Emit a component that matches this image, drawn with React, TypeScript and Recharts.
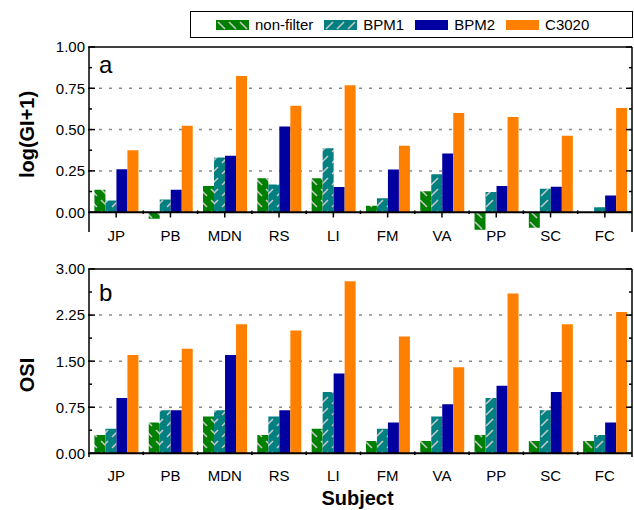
import { BarChart, Bar, XAxis, YAxis, CartesianGrid, ReferenceLine, Legend } from "recharts"

const subjects = ["JP", "PB", "MDN", "RS", "LI", "FM", "VA", "PP", "SC", "FC"]

// panel a: log(GI+1)
const giNonFilter = [0.136, -0.04, 0.158, 0.205, 0.205, 0.039, 0.126, -0.107, -0.095, -0.005]
const giBpm1 = [0.071, 0.077, 0.331, 0.167, 0.387, 0.085, 0.229, 0.122, 0.142, 0.03]
const giBpm2 = [0.26, 0.136, 0.341, 0.519, 0.152, 0.258, 0.355, 0.158, 0.154, 0.101]
const giC3020 = [0.375, 0.523, 0.825, 0.645, 0.769, 0.402, 0.6, 0.576, 0.462, 0.631]

// panel b: OSI
const osiNonFilter = [0.3, 0.5, 0.6, 0.3, 0.4, 0.2, 0.2, 0.3, 0.2, 0.2]
const osiBpm1 = [0.4, 0.7, 0.7, 0.6, 1.0, 0.4, 0.6, 0.9, 0.7, 0.3]
const osiBpm2 = [0.9, 0.7, 1.6, 0.7, 1.3, 0.5, 0.8, 1.1, 1.0, 0.5]
const osiC3020 = [1.6, 1.7, 2.1, 2.0, 2.8, 1.9, 1.4, 2.6, 2.1, 2.3]

const giTicks = [0, 0.25, 0.5, 0.75, 1]
const osiTicks = [0, 0.75, 1.5, 2.25, 3]

const series = [
  { key: "nf", name: "non-filter", color: "#008000", hatch: "back" },
  { key: "b1", name: "BPM1", color: "#008080", hatch: "fwd" },
  { key: "b2", name: "BPM2", color: "#0000a0", hatch: "" },
  { key: "c3", name: "C3020", color: "#ff8000", hatch: "" },
]

const giData = subjects.map((s, i) => ({ subject: s, nf: giNonFilter[i], b1: giBpm1[i], b2: giBpm2[i], c3: giC3020[i] }))
const osiData = subjects.map((s, i) => ({ subject: s, nf: osiNonFilter[i], b1: osiBpm1[i], b2: osiBpm2[i], c3: osiC3020[i] }))

const FONT = "'Liberation Sans', Arial, sans-serif"

// major ticks plus a minor one halfway between
const withMinors = (ticks: number[]) => {
  const out: number[] = []
  ticks.forEach((t, i) => {
    out.push(t)
    if (i < ticks.length - 1) out.push((t + ticks[i + 1]) / 2)
  })
  return out
}

const isMajor = (v: number, majors: number[]) => majors.some((m) => Math.abs(m - v) < 1e-6)

function Hatch({ id, color, dir }: { id: string; color: string; dir: string }) {
  return (
    <pattern id={id} patternUnits="userSpaceOnUse" width={11} height={11}>
      <rect width={11} height={11} fill={color} />
      <line
        x1={2}
        y1={dir === "back" ? 2 : 9}
        x2={9}
        y2={dir === "back" ? 9 : 2}
        stroke="#c8c8c8"
        strokeWidth={1.6}
      />
    </pattern>
  )
}

const fillFor = (prefix: string, s: (typeof series)[number]) => (s.hatch ? `url(#${prefix}-${s.key})` : s.color)

function LeftTick(props: any) {
  const { x, y, payload, majors } = props
  const axisX = x + 4
  const major = isMajor(payload.value, majors)
  return (
    <g>
      <line x1={major ? axisX - 1 : axisX} x2={axisX + (major ? 6 : 3)} y1={y} y2={y} stroke="#000" strokeWidth={1.5} />
      {major && (
        <text x={x} y={y} dy="0.36em" textAnchor="end" fontSize={15} fontFamily={FONT} fill="#000">
          {payload.value.toFixed(2)}
        </text>
      )}
    </g>
  )
}

function RightTick(props: any) {
  const { x, y, payload, majors } = props
  const major = isMajor(payload.value, majors)
  return <line x1={x - (major ? 6 : 3)} x2={x} y1={y} y2={y} stroke="#000" strokeWidth={1.5} />
}

function SubjectTick(props: any) {
  const { x, y, payload, shift } = props
  return (
    <text x={x} y={y + shift} textAnchor="middle" fontSize={15} fontFamily={FONT} fill="#000">
      {payload.value}
    </text>
  )
}

function LegendBox() {
  return (
    <div
      style={{
        display: "flex",
        alignItems: "center",
        height: "100%",
        boxSizing: "border-box",
        border: "1.5px solid #000",
        paddingLeft: 25,
        fontFamily: FONT,
        fontSize: 15,
      }}
    >
      {series.map((s) => (
        <div key={s.key} style={{ display: "flex", alignItems: "center", marginRight: 11 }}>
          <svg width={33} height={10} style={{ display: "block" }}>
            <defs>{s.hatch && <Hatch id={`lg-${s.key}`} color={s.color} dir={s.hatch} />}</defs>
            <rect width={33} height={10} fill={fillFor("lg", s)} />
          </svg>
          <span style={{ marginLeft: 6 }}>{s.name}</span>
        </div>
      ))}
    </div>
  )
}

function Panel({
  data,
  prefix,
  majors,
  domain,
  height,
  top,
  axisHeight,
  tickShift,
  yLabel,
  yLabelShift,
  tickLen,
  showLegend,
  xLabel,
}: any) {
  const allTicks = withMinors(majors).filter((t) => t >= domain[0] && t <= domain[1])
  const grid = majors.filter((t: number) => t > 0 && t < domain[1])
  return (
    <BarChart
      width={634}
      height={height}
      data={data}
      margin={{ top, right: 0, bottom: 0, left: 0 }}
      barCategoryGap="10%"
      barGap={0}
    >
      <defs>
        {series
          .filter((s) => s.hatch)
          .map((s) => (
            <Hatch key={s.key} id={`${prefix}-${s.key}`} color={s.color} dir={s.hatch} />
          ))}
      </defs>
      <CartesianGrid
        vertical={false}
        horizontalValues={grid}
        stroke="#8a8a8a"
        strokeWidth={1.5}
        strokeDasharray="3 7"
      />
      <XAxis
        dataKey="subject"
        interval={0}
        axisLine={false}
        tickLine={false}
        tickSize={0}
        tickMargin={0}
        height={axisHeight}
        tick={(p: any) => <SubjectTick {...p} shift={tickShift} />}
        label={
          xLabel
            ? {
                content: ({ viewBox }: any) => (
                  <text
                    x={viewBox.x + viewBox.width / 2 - 3}
                    y={viewBox.y + viewBox.height - 5}
                    textAnchor="middle"
                    fontSize={20}
                    fontWeight="bold"
                    fontFamily={FONT}
                    fill="#000"
                  >
                    {xLabel}
                  </text>
                ),
              }
            : undefined
        }
      />
      <YAxis
        width={89}
        domain={domain}
        ticks={allTicks}
        interval={0}
        allowDataOverflow
        axisLine={{ stroke: "#000", strokeWidth: 1.5 }}
        tickLine={false}
        tickSize={0}
        tickMargin={4}
        tick={(p: any) => <LeftTick {...p} majors={majors} />}
        label={{
          content: ({ viewBox }: any) => {
            const cx = viewBox.x + 33.5
            const cy = viewBox.y + viewBox.height / 2 + yLabelShift
            return (
              <text
                x={cx}
                y={cy}
                transform={`rotate(-90 ${cx} ${cy})`}
                textAnchor="middle"
                fontSize={20}
                fontWeight="bold"
                fontFamily={FONT}
                fill="#000"
              >
                {yLabel}
              </text>
            )
          },
        }}
      />
      <YAxis
        yAxisId="right"
        orientation="right"
        width={2}
        domain={domain}
        ticks={allTicks}
        interval={0}
        allowDataOverflow
        axisLine={{ stroke: "#000", strokeWidth: 1.5 }}
        tickLine={false}
        tickSize={0}
        tickMargin={0}
        tick={(p: any) => <RightTick {...p} majors={majors} />}
      />
      {series.map((s) => (
        <Bar key={s.key} dataKey={s.key} name={s.name} fill={fillFor(prefix, s)} isAnimationActive={false} />
      ))}
      <ReferenceLine y={domain[1]} stroke="#000" strokeWidth={1.5} />
      <ReferenceLine y={0} stroke="#000" strokeWidth={2} />
      {subjects.map((s) => (
        <ReferenceLine
          key={`maj-${s}`}
          segment={[
            { x: s, y: 0 },
            { x: s, y: -tickLen },
          ]}
          stroke="#000"
          strokeWidth={1.5}
        />
      ))}
      {subjects.slice(1).map((s) => (
        <ReferenceLine
          key={`min-${s}`}
          position="start"
          segment={[
            { x: s, y: tickLen / 3 },
            { x: s, y: -tickLen / 3 },
          ]}
          stroke="#000"
          strokeWidth={1.5}
        />
      ))}
      {showLegend && (
        <Legend
          layout="horizontal"
          verticalAlign="middle"
          align="center"
          wrapperStyle={{ top: 11, left: 190, width: 443, height: 27 }}
          content={() => <LegendBox />}
        />
      )}
    </BarChart>
  )
}

export default function App() {
  return (
    <div style={{ position: "absolute", left: 0, top: 0, width: 634, height: 510, background: "#fff", fontFamily: FONT }}>
      <div style={{ position: "absolute", left: 0, top: 0 }}>
        <Panel
          data={giData}
          prefix="ga"
          majors={giTicks}
          domain={[-0.12, 1]}
          height={252}
          top={47}
          axisHeight={20}
          tickShift={8.5}
          yLabel="log(GI+1)"
          yLabelShift={-5}
          tickLen={0.032}
          showLegend
        />
      </div>
      <div style={{ position: "absolute", left: 0, top: 252 }}>
        <Panel
          data={osiData}
          prefix="gb"
          majors={osiTicks}
          domain={[-0.06, 3]}
          height={258}
          top={17}
          axisHeight={53}
          tickShift={23.5}
          yLabel="OSI"
          yLabelShift={12}
          tickLen={0.085}
          xLabel="Subject"
        />
      </div>
      <div style={{ position: "absolute", left: 99, top: 52.5, fontSize: 24, lineHeight: "24px" }}>a</div>
      <div style={{ position: "absolute", left: 99, top: 281, fontSize: 24, lineHeight: "24px" }}>b</div>
    </div>
  )
}
